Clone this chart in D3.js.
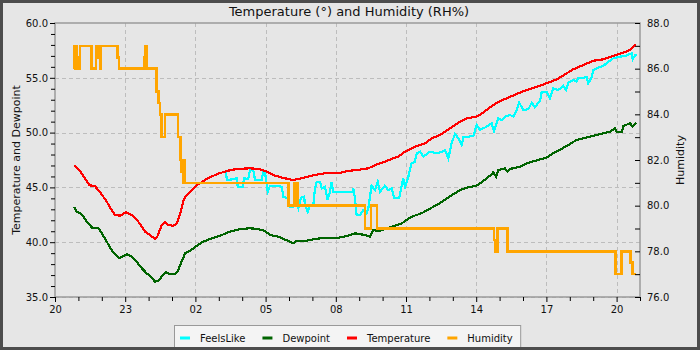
<!DOCTYPE html>
<html>
<head>
<meta charset="utf-8">
<script src="https://cdn.jsdelivr.net/npm/d3@7"></script>
<style>
  html, body { margin: 0; padding: 0; background: #e6e6e6; }
  svg { display: block; font-family: "DejaVu Sans", sans-serif; }
</style>
</head>
<body>
<svg id="chart" width="700" height="350"></svg>
<script>
// Time axis: hours elapsed since 20:00 on the first day
const xTickHours  = [0, 3, 6, 9, 12, 15, 18, 21, 24];
const xTickLabels = ["20", "23", "02", "05", "08", "11", "14", "17", "20"];

const tempHours = [0.82,1.07,1.28,1.47,1.71,1.92,2.21,2.42,2.56,2.78,3.03,3.28,3.56,3.85,4.06,4.27,4.37,4.56,4.70,4.84,5.06,5.20,5.34,5.48,5.56,5.77,6.06,6.48,6.91,7.34,7.76,8.33,8.69,8.97,9.40,9.83,10.18,10.54,10.97,11.54,12.11,12.53,12.96,13.39,13.68,14.10,14.39,14.67,14.96,15.38,15.81,16.10,16.45,16.88,17.31,17.59,18.02,18.30,18.59,18.88,19.30,19.73,20.16,20.59,21.01,21.44,21.87,22.15,22.58,23.01,23.44,23.86,24.22,24.57,24.83];
const tempValues = [47.0,46.5,45.83,45.2,45.1,44.6,43.7,42.94,42.48,42.42,42.73,42.48,41.87,40.96,40.66,40.3,40.5,41.57,41.87,41.57,41.5,41.72,42.5,43.7,44.15,44.55,45.2,45.77,46.2,46.5,46.68,46.74,46.68,46.5,46.07,45.83,45.67,45.83,46.07,46.3,46.3,46.5,46.6,46.74,47.04,47.35,47.6,47.8,48.26,48.71,49.02,49.48,49.78,50.39,51.0,51.3,51.45,51.82,52.3,52.73,53.13,53.52,53.89,54.19,54.5,54.86,55.41,55.78,56.17,56.56,56.69,56.99,57.24,57.54,58.08];

const dewHours = [0.82,0.93,1.07,1.21,1.42,1.61,1.85,2.0,2.21,2.42,2.56,2.75,2.89,3.06,3.28,3.49,3.71,3.92,4.13,4.27,4.41,4.56,4.74,4.91,5.13,5.27,5.41,5.56,5.70,5.91,6.27,6.62,7.05,7.48,7.91,8.33,8.69,8.97,9.19,9.54,9.97,10.18,10.33,10.68,11.11,11.54,12.11,12.53,12.82,13.25,13.46,13.60,13.82,14.10,14.39,14.82,15.24,15.67,16.10,16.45,16.74,17.02,17.31,17.59,18.02,18.30,18.59,18.73,18.85,18.94,19.23,19.33,19.44,19.87,20.16,20.59,21.01,21.29,21.87,22.29,22.86,23.29,23.72,23.93,24.0,24.22,24.29,24.57,24.69,24.86];
const dewValues = [43.24,42.78,42.64,42.33,41.72,41.27,41.32,40.81,40.05,39.29,38.9,38.53,38.68,38.9,38.68,38.22,37.62,37.16,36.76,36.4,36.46,36.85,37.25,37.07,37.07,37.46,38.22,38.99,39.13,39.44,39.99,40.29,40.59,40.96,41.2,41.27,41.2,41.02,40.66,40.5,40.11,39.9,40.11,40.11,40.29,40.41,40.41,40.59,40.81,40.66,40.5,41.11,41.02,41.2,41.41,41.72,42.33,42.64,43.15,43.55,44.0,44.37,44.76,44.97,45.16,45.58,46.07,46.38,45.98,46.59,46.74,46.43,46.68,46.89,47.2,47.47,47.71,48.11,48.78,49.33,49.63,49.87,50.08,50.39,50.08,50.08,50.6,50.85,50.54,50.9];

const feelsHours = [7.31,7.34,7.62,7.76,7.81,8.02,8.08,8.26,8.33,8.47,8.55,8.83,8.90,8.97,9.02,9.09,9.19,9.40,9.69,9.76,9.94,10.04,10.18,10.26,10.40,10.51,10.65,10.68,10.80,10.90,11.04,11.11,11.18,11.32,11.40,11.54,11.65,11.75,11.82,11.89,12.39,12.71,12.75,12.82,12.89,13.03,13.17,13.32,13.39,13.46,13.53,13.68,13.79,13.89,14.10,14.24,14.39,14.50,14.71,14.82,14.88,14.96,15.10,15.24,15.38,15.46,15.60,15.74,16.03,16.31,16.53,16.67,16.81,16.95,17.09,17.24,17.38,17.45,17.88,18.02,18.16,18.45,18.66,18.76,18.94,19.09,19.23,19.44,19.59,19.70,19.84,20.01,20.23,20.37,20.51,20.73,20.80,21.01,21.15,21.29,21.51,21.72,21.84,21.94,22.15,22.29,22.36,22.72,22.79,22.94,23.0,23.15,23.43,23.65,23.86,24.15,24.36,24.65,24.69,24.79,24.86];
const feelsValues = [46.43,45.68,45.74,45.83,45.06,45.06,45.83,45.77,46.59,46.59,45.68,45.68,46.43,46.43,45.68,44.61,45.16,45.16,45.06,44.15,44.0,43.24,43.24,44.0,43.09,44.06,44.15,43.39,42.78,43.39,43.39,44.92,45.52,45.52,44.92,45.06,43.85,44.61,45.46,44.55,44.55,44.55,44.92,44.0,42.48,42.48,42.94,42.64,43.09,44.15,45.16,44.76,45.52,44.61,45.16,44.76,44.92,44.0,44.0,45.22,45.83,45.06,45.98,47.2,47.35,48.11,48.26,47.8,48.26,48.11,48.26,48.41,47.65,49.02,49.87,49.48,48.87,49.57,49.69,50.69,50.24,50.54,50.85,50.17,51.3,51.15,51.45,51.61,51.45,51.91,52.73,52.06,52.13,52.73,52.31,52.91,53.73,53.73,53.13,54.04,53.89,54.25,53.89,54.55,54.8,54.64,54.95,55.05,54.5,55.05,55.71,55.87,56.08,56.47,56.78,56.93,56.99,57.24,56.69,57.08,57.08];

// Relative humidity is reported in steps; each value holds until the next reading
const humHours = [0.81,0.83,0.86,0.92,0.94,0.99,1.04,1.07,1.57,1.75,1.78,1.80,1.84,1.92,1.95,2.68,2.74,3.82,3.84,3.87,3.89,3.93,4.35,4.43,4.49,4.56,4.70,5.26,5.37,5.40,5.43,5.47,5.50,5.53,9.97,10.23,10.37,13.25,13.50,13.76,18.76,18.80,18.90,19.33,23.96,24.22,24.60,24.67,24.83];
const humValues = [86,87,86,87,86,86.5,86,87,86,86.5,87,86.5,87,86,87,86.5,86,86.5,87,86,87,86,85,84.5,84,83,84,83,82,81.5,82,81,82,81,80,81,80,79,80,79,78.5,78,79,78,77,78,77.5,77,77];

const leftTicks  = [35, 40, 45, 50, 55, 60];
const rightTicks = [76, 78, 80, 82, 84, 86, 88];

const seriesNames  = ["FeelsLike", "Dewpoint", "Temperature", "Humidity"];
const seriesColors = ["#00ffff", "#006400", "#ff0000", "#ffa500"];

const W = 700, H = 350;
const plot = { left: 55, top: 23, right: 640, bottom: 297 };

const svg = d3.select("#chart");

svg.append("rect").attr("width", W).attr("height", H).attr("fill", "#e6e6e6");

const x  = d3.scaleLinear().domain([0, 25]).range([plot.left, plot.right]);
const yL = d3.scaleLinear().domain([35, 60]).range([plot.bottom, plot.top]);
const yR = d3.scaleLinear().domain([76, 88]).range([plot.bottom, plot.top]);

// Dashed grid at the major ticks
const grid = svg.append("g").attr("stroke", "#bdbdbd").attr("stroke-dasharray", "4,3")
  .attr("stroke-width", 1).attr("shape-rendering", "crispEdges");
xTickHours.slice(1).forEach(h => {
  grid.append("line").attr("x1", Math.round(x(h)) + 0.5).attr("x2", Math.round(x(h)) + 0.5)
    .attr("y1", plot.top).attr("y2", plot.bottom);
});
leftTicks.slice(0, -1).forEach(v => {
  grid.append("line").attr("y1", Math.round(yL(v)) + 0.5).attr("y2", Math.round(yL(v)) + 0.5)
    .attr("x1", plot.left).attr("x2", plot.right);
});

// Series
svg.append("clipPath").attr("id", "plotclip").append("rect")
  .attr("x", plot.left).attr("y", plot.top)
  .attr("width", plot.right - plot.left).attr("height", plot.bottom - plot.top);

const lines = svg.append("g").attr("clip-path", "url(#plotclip)").attr("fill", "none")
  .attr("shape-rendering", "crispEdges");

const lineL = d3.line().x(d => x(d[0])).y(d => yL(d[1]));
const stepR = d3.line().x(d => x(d[0])).y(d => yR(d[1])).curve(d3.curveStepAfter);

const zip = (a, b) => a.map((h, i) => [h, b[i]]);

lines.append("path").attr("d", lineL(zip(feelsHours, feelsValues)))
  .attr("stroke", seriesColors[0]).attr("stroke-width", 2.2);
lines.append("path").attr("d", lineL(zip(dewHours, dewValues)))
  .attr("stroke", seriesColors[1]).attr("stroke-width", 2.2);
lines.append("path").attr("d", lineL(zip(tempHours, tempValues)))
  .attr("stroke", seriesColors[2]).attr("stroke-width", 2.2);
lines.append("path").attr("d", stepR(zip(humHours, humValues)))
  .attr("stroke", seriesColors[3]).attr("stroke-width", 2.6);

// Plot frame
svg.append("rect").attr("x", plot.left).attr("y", plot.top)
  .attr("width", plot.right - plot.left).attr("height", plot.bottom - plot.top)
  .attr("fill", "none").attr("stroke", "#9a9a9a").attr("stroke-width", 1.5);

const fmt = d3.format(".1f");

// Left axis
const leftMinor = d3.range(36, 60).filter(v => v % 5 !== 0);
const gl = svg.append("g").attr("transform", `translate(${plot.left},0)`);
gl.call(d3.axisLeft(yL).tickValues(leftTicks).tickSize(5).tickPadding(2).tickFormat(fmt));
gl.append("g").call(d3.axisLeft(yL).tickValues(leftMinor).tickSize(4).tickFormat(""));

// Right axis
const rightMinor = d3.range(77, 88, 2);
const gr = svg.append("g").attr("transform", `translate(${plot.right},0)`);
gr.call(d3.axisRight(yR).tickValues(rightTicks).tickSizeInner(-5).tickSizeOuter(0).tickPadding(7).tickFormat(fmt));
gr.append("g").call(d3.axisRight(yR).tickValues(rightMinor).tickSizeInner(-5).tickSizeOuter(0).tickFormat(""));

// Bottom axis
const xMinor = d3.range(1, 26).filter(h => h % 3 !== 0);
const gb = svg.append("g").attr("transform", `translate(0,${plot.bottom})`);
gb.call(d3.axisBottom(x).tickValues(xTickHours).tickSize(5).tickPadding(4)
  .tickFormat((d, i) => xTickLabels[i]));
gb.append("g").call(d3.axisBottom(x).tickValues(xMinor).tickSize(4).tickFormat(""));

[gl, gr, gb].forEach(g => {
  g.selectAll(".domain").remove();
  g.selectAll("line").attr("stroke", "#000");
  g.selectAll("text").attr("fill", "#111").attr("font-size", 10).attr("font-family", "DejaVu Sans");
});

// Titles
svg.append("text").attr("x", 349).attr("y", 16).attr("text-anchor", "middle")
  .attr("font-size", 13).attr("fill", "#111").text("Temperature (°) and Humidity (RH%)");
svg.append("text").attr("transform", `translate(20,${(plot.top + plot.bottom) / 2}) rotate(-90)`)
  .attr("text-anchor", "middle").attr("font-size", 11).attr("fill", "#111")
  .text("Temperature and Dewpoint");
svg.append("text").attr("transform", `translate(684,${(plot.top + plot.bottom) / 2}) rotate(-90)`)
  .attr("text-anchor", "middle").attr("font-size", 11).attr("fill", "#111")
  .text("Humidity");

// Legend
const legend = svg.append("g");
const legendBox = legend.append("rect").attr("x", 174.5).attr("y", 325.5)
  .attr("height", 26).attr("fill", "#f4f4f4").attr("stroke", "#999").attr("stroke-width", 1);
let lx = 180;
seriesNames.forEach((name, i) => {
  legend.append("line").attr("x1", lx).attr("x2", lx + 10).attr("y1", 338).attr("y2", 338)
    .attr("stroke", seriesColors[i]).attr("stroke-width", 3);
  const t = legend.append("text").attr("x", lx + 20).attr("y", 342)
    .attr("font-size", 10).attr("fill", "#111").text(name);
  lx += 20 + t.node().getComputedTextLength() + 17;
});
legendBox.attr("width", lx - 17 + 8 - 174.5);

// Outer frame
svg.append("rect").attr("x", 1.5).attr("y", 1.5).attr("width", W - 3).attr("height", H - 3)
  .attr("fill", "none").attr("stroke", "#4d4d4d").attr("stroke-width", 3);
</script>
</body>
</html>
